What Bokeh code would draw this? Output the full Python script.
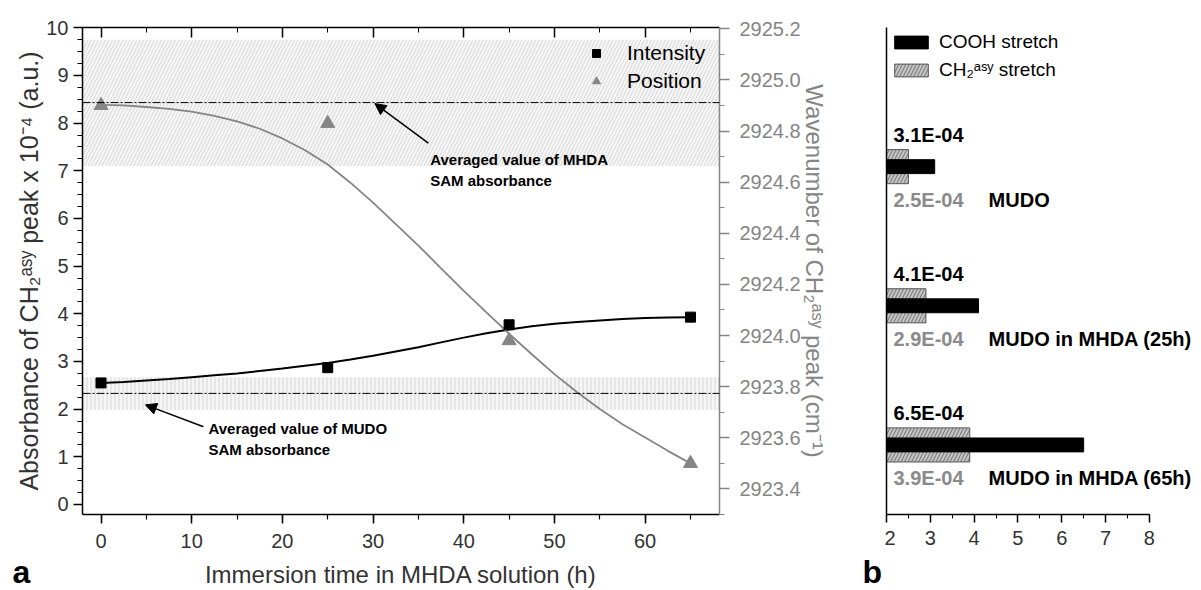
from bokeh.plotting import figure
from bokeh.models import (Range1d, LinearAxis, SingleIntervalTicker, FixedTicker, BoxAnnotation, Span,
                          Arrow, NormalHead, Label, LabelSet, Legend, LegendItem, ColumnDataSource,
                          PrintfTickFormatter, Title)
from bokeh.core.properties import value
from bokeh.layouts import row
from bokeh.embed import file_html
from bokeh.resources import INLINE

FONT = "Liberation Sans"

# ---------------- data: panel a ----------------
time_h = [0, 25, 45, 65]
intensity = [2.55, 2.87, 3.77, 3.93]            # absorbance x 1e-4
position = [2924.90, 2924.83, 2923.98, 2923.50]  # wavenumber (cm-1)

fit_time = [0, 2.5, 5, 7.5, 10, 12.5, 15, 17.5, 20, 22.5, 25, 27.5, 30, 32.5,
            35, 37.5, 40, 42.5, 45, 47.5, 50, 52.5, 55, 57.5, 60, 62.5, 65]
intensity_fit = [2.55, 2.57, 2.60, 2.63, 2.67, 2.71, 2.75, 2.80, 2.85, 2.91, 2.97, 3.04, 3.12, 3.21,
                 3.30, 3.40, 3.50, 3.59, 3.67, 3.74, 3.79, 3.83, 3.86, 3.89, 3.91, 3.92, 3.93]
position_fit = [2924.902, 2924.900, 2924.894, 2924.887, 2924.876, 2924.859, 2924.838, 2924.809,
                2924.771, 2924.725, 2924.669, 2924.598, 2924.520, 2924.436, 2924.352, 2924.263,
                2924.175, 2924.091, 2924.007, 2923.927, 2923.849, 2923.778, 2923.713, 2923.653,
                2923.601, 2923.549, 2923.500]

mhda_band = [7.10, 9.75]
mhda_avg = 8.43
mudo_band = [1.98, 2.67]
mudo_avg = 2.33

# ---------------- data: panel b ----------------
samples = ["MUDO", "MUDO in MHDA (25h)", "MUDO in MHDA (65h)"]
cooh = [3.1e-4, 4.1e-4, 6.5e-4]
ch2 = [2.5e-4, 2.9e-4, 3.9e-4]
xb_ticks = [2, 3, 4, 5, 6, 7, 8]

GRAY = "#858585"
DARK = "#333333"

# ================= panel a =================
p = figure(width=884, height=590, x_range=Range1d(-2.04, 68.2), y_range=Range1d(-0.21, 10.005),
           output_backend="svg", toolbar_location=None,
           min_border_left=82, min_border_right=165, min_border_top=26, min_border_bottom=75)
p.outline_line_color = None
p.xgrid.visible = False
p.ygrid.visible = False

# bands
p.add_layout(BoxAnnotation(bottom=mhda_band[0], top=mhda_band[1], fill_color="#f6f6f6", fill_alpha=1,
                           hatch_pattern="/", hatch_color="#d6d6d6", hatch_scale=7, hatch_weight=1,
                           line_color=None, level="underlay"))
p.add_layout(BoxAnnotation(bottom=mudo_band[0], top=mudo_band[1], fill_color="#f6f6f6", fill_alpha=1,
                           hatch_pattern="|", hatch_color="#d6d6d6", hatch_scale=4, hatch_weight=1,
                           line_color=None, level="underlay"))
p.add_layout(Span(location=mhda_avg, dimension="width", line_color="black", line_width=1,
                  line_dash="8 2 2 2"))
p.add_layout(Span(location=mudo_avg, dimension="width", line_color="black", line_width=1,
                  line_dash="8 2 2 2"))

p.extra_y_ranges = {"wn": Range1d(2923.30, 2925.205)}

p.line(fit_time, intensity_fit, line_color="black", line_width=2)
p.line(fit_time, position_fit, y_range_name="wn", line_color=GRAY, line_width=1.8)
r_int = p.scatter(time_h, intensity, marker="square", size=10, fill_color="black", line_color="black")
r_pos = p.scatter(time_h, position, y_range_name="wn", marker="triangle", size=14,
                  fill_color=GRAY, line_color=GRAY)

# axes
xa = p.xaxis[0]
xa.ticker = SingleIntervalTicker(interval=10, num_minor_ticks=2)
ya = p.yaxis[0]
ya.ticker = SingleIntervalTicker(interval=1, num_minor_ticks=4)
for ax in (xa, ya):
    ax.axis_line_width = 1.5
    ax.axis_line_color = "black"
    ax.major_tick_line_color = "black"
    ax.minor_tick_line_color = "black"
    ax.major_tick_line_width = 1.5
    ax.minor_tick_line_width = 1.2
    ax.major_tick_in = 0
    ax.minor_tick_in = 0
    ax.major_tick_out = 9
    ax.minor_tick_out = 5
    ax.major_label_text_font = FONT
    ax.major_label_text_font_size = "20px"
    ax.major_label_text_color = DARK
    ax.axis_label_text_font = FONT
    ax.axis_label_text_font_size = "24px"
    ax.axis_label_text_font_style = "normal"
    ax.axis_label_text_color = DARK
xa.axis_label = "Immersion time in MHDA solution (h)"
xa.major_label_standoff = 10
xa.axis_label_standoff = 10
ya.axis_label = "Absorbance of CH\u2082\u1d43\u02e2\u02b8 peak x 10\u207b\u2074 (a.u.)"
ya.axis_label_text_font_size = "25px"
ya.axis_label_standoff = 0

top = LinearAxis(ticker=SingleIntervalTicker(interval=10, num_minor_ticks=2))
top.axis_line_width = 1.5
top.major_tick_in = 10
top.major_tick_out = 0
top.minor_tick_in = 5
top.minor_tick_out = 0
top.major_tick_line_width = 1.5
top.major_label_text_color = None
top.major_label_standoff = 0
p.add_layout(top, "above")

right = LinearAxis(y_range_name="wn", ticker=SingleIntervalTicker(interval=0.2, num_minor_ticks=2),
                   formatter=PrintfTickFormatter(format="%.1f"))
right.axis_line_color = GRAY
right.axis_line_width = 1.5
right.major_tick_line_color = GRAY
right.minor_tick_line_color = GRAY
right.major_tick_line_width = 1.5
right.major_tick_in = 0
right.minor_tick_in = 0
right.major_tick_out = 10
right.minor_tick_out = 5
right.major_label_standoff = 10
right.major_label_text_font = FONT
right.major_label_text_font_size = "20px"
right.major_label_text_color = GRAY
right.axis_label = "Wavenumber of CH\u2082\u1d43\u02e2\u02b8 peak (cm\u207b\u00b9)"
right.axis_label_text_font = FONT
right.axis_label_text_font_size = "24px"
right.axis_label_text_font_style = "normal"
right.axis_label_text_color = GRAY
right.axis_label_standoff = -3
p.add_layout(right, "right")

# legend
leg = Legend(items=[LegendItem(label="Intensity", renderers=[r_int]),
                    LegendItem(label="Position", renderers=[r_pos])],
             location=(504, 421), margin=0, padding=0, spacing=4,
             glyph_width=20, glyph_height=20, label_height=20, label_standoff=21,
             label_text_font=FONT, label_text_font_size="21px", label_text_color="black",
             background_fill_alpha=0, border_line_color=None)
p.add_layout(leg)

# annotations
p.add_layout(Arrow(end=NormalHead(size=11, fill_color="black", line_color="black"),
                   x_start=36.1, y_start=7.58, x_end=30.2, y_end=8.41,
                   line_color="black", line_width=1.5))
p.add_layout(Label(x=36.3, y=7.42, text="Averaged value of MHDA\nSAM absorbance",
                   text_font=FONT, text_font_size="15px", text_font_style="bold", text_color="black",
                   text_baseline="top", text_line_height=1.25))
p.add_layout(Arrow(end=NormalHead(size=11, fill_color="black", line_color="black"),
                   x_start=11.3, y_start=1.63, x_end=4.9, y_end=2.09,
                   line_color="black", line_width=1.5))
p.add_layout(Label(x=11.85, y=1.78, text="Averaged value of MUDO\nSAM absorbance",
                   text_font=FONT, text_font_size="15px", text_font_style="bold", text_color="black",
                   text_baseline="top", text_line_height=1.25))

# panel letters (titles in the bottom side panel, so they are not clipped to the frame)
letter = dict(text_font=FONT, text_font_size="32px", text_font_style="bold", text_color="black",
              align="left", vertical_align="top")
p.add_layout(Title(text="a", offset=-70, standoff=-74, **letter), "below")
p.add_layout(Title(text="b", offset=780, standoff=-74, **letter), "below")

# ================= panel b =================
ys = [i + 1 for i in range(len(samples))]
cooh_x = [v * 1e4 for v in cooh]
ch2_x = [v * 1e4 for v in ch2]

q = figure(width=317, height=590, x_range=Range1d(xb_ticks[0], 9.19), y_range=Range1d(3.5, 0),
           output_backend="svg", toolbar_location=None,
           min_border_left=2, min_border_right=0, min_border_top=27, min_border_bottom=73)
q.outline_line_color = None
q.xgrid.visible = False
q.ygrid.visible = False

r_ch2 = q.hbar(y=ys, left=0, right=ch2_x, height=0.245, fill_color="#c4c4c4",
               hatch_pattern="/", hatch_color="#707070", hatch_scale=7, hatch_weight=1,
               line_color="#555555", line_width=1)
r_cooh = q.hbar(y=ys, left=0, right=cooh_x, height=0.1, fill_color="black", line_color="black")

qx = q.xaxis[0]
qx.ticker = SingleIntervalTicker(interval=1, num_minor_ticks=2)
qx.bounds = (xb_ticks[0], xb_ticks[-1])
qx.axis_line_width = 1.5
qx.major_tick_line_width = 1.5
qx.major_tick_in = 0
qx.minor_tick_in = 0
qx.major_tick_out = 8
qx.minor_tick_out = 4
qx.major_label_standoff = 8
qx.major_label_text_font = FONT
qx.major_label_text_font_size = "20px"
qx.major_label_text_color = DARK
qy = q.yaxis[0]
qy.ticker = FixedTicker(ticks=[])
qy.axis_line_width = 1.5
qy.major_tick_out = 0
qy.minor_tick_out = 0
qy.major_label_standoff = 0
qy.major_label_text_color = None

src = ColumnDataSource(dict(
    x=[xb_ticks[0] + 0.16] * len(samples),
    xn=[xb_ticks[0] + 2.33] * len(samples),
    y_top=[y - 0.23 for y in ys],
    y_bot=[y + 0.24 for y in ys],
    t_cooh=[f"{v:.1E}" for v in cooh],
    t_ch2=[f"{v:.1E}" for v in ch2],
    name=samples,
))
common = dict(text_font=value(FONT), text_font_size=value("20px"), text_font_style="bold",
              text_baseline="middle")
q.add_layout(LabelSet(x="x", y="y_top", text="t_cooh", source=src, text_color="black", **common))
q.add_layout(LabelSet(x="x", y="y_bot", text="t_ch2", source=src, text_color="#8a8a8a", **common))
q.add_layout(LabelSet(x="xn", y="y_bot", text="name", source=src, text_color="black", **common))

legb = Legend(items=[LegendItem(label="COOH stretch", renderers=[r_cooh]),
                     LegendItem(label="CH\u2082\u1d43\u02e2\u02b8 stretch", renderers=[r_ch2])],
              location="top_left", margin=4, padding=7, spacing=6,
              glyph_width=42, glyph_height=16, label_height=16, label_standoff=7,
              label_text_font=FONT, label_text_font_size="19px", label_text_color="black",
              background_fill_alpha=0, border_line_color=None)
q.add_layout(legb)

layout = row(p, q)
open("out.html", "w").write(file_html(layout, INLINE))
